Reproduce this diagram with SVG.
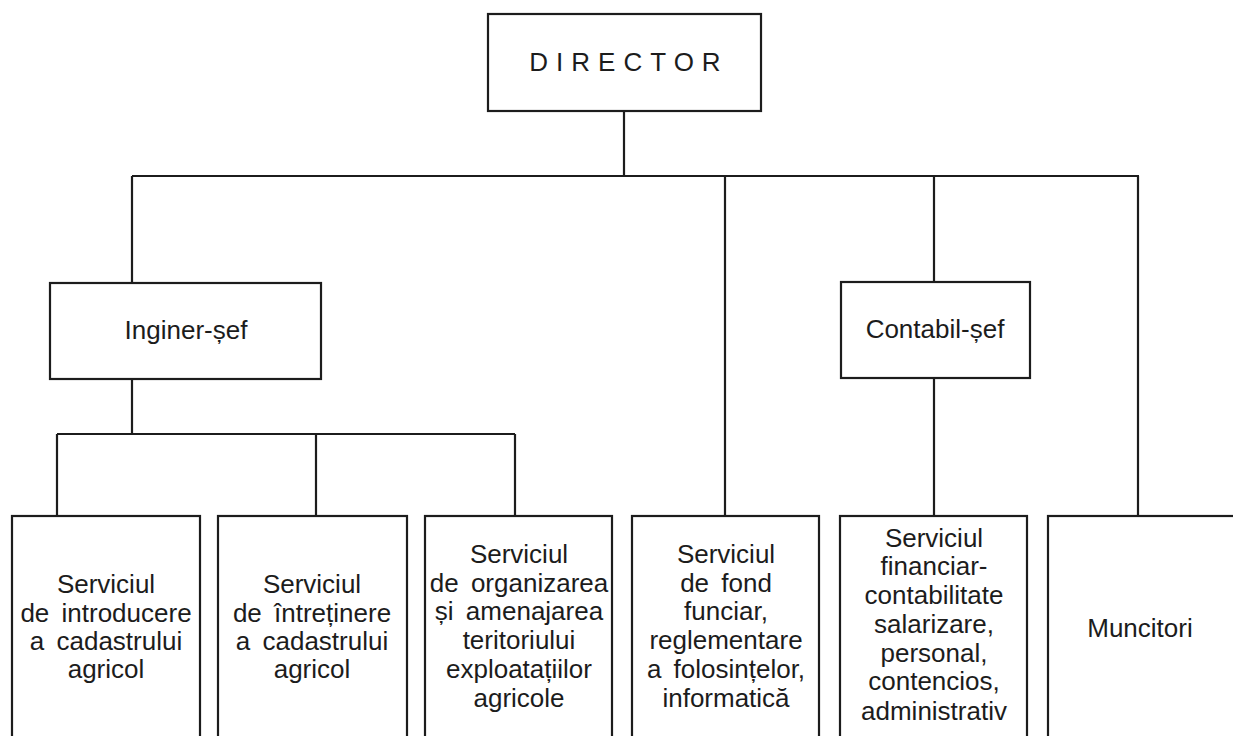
<svg xmlns="http://www.w3.org/2000/svg" width="1233" height="736" viewBox="0 0 1233 736">
<style>
.box{fill:#fff;stroke:#1c1c1c;stroke-width:2.2}
.ln{fill:none;stroke:#1c1c1c;stroke-width:2.2}
text{font-family:"Liberation Sans",Arial,sans-serif;font-size:26px;fill:#1c1c1c;text-anchor:middle}
.ws{word-spacing:5px}
</style>
<rect width="1233" height="736" fill="#fff"/>
<g id="connectors">
<path class="ln" d="M624,111V176M132,176H1139M132,176V283M725,176V516M934,176V282M1138,176V516"/>
<path class="ln" d="M132,379V434M57,434H515M57,434V516M316,434V516M515,434V516M934,378V516"/>
</g>
<g id="director">
<rect class="box" x="488" y="14" width="273" height="97"/>
<text x="629" y="71" style="letter-spacing:8px">DIRECTOR</text>
</g>
<g id="inginer-sef">
<rect class="box" x="50" y="283" width="271" height="96"/>
<text x="186" y="339">Inginer-șef</text>
</g>
<g id="contabil-sef">
<rect class="box" x="841" y="282" width="189" height="96"/>
<text x="935" y="338">Contabil-șef</text>
</g>
<g id="serviciul-introducere">
<rect class="box" x="12" y="516" width="188" height="240"/>
<text class="ws" x="106" y="593">Serviciul</text>
<text class="ws" x="106" y="622">de introducere</text>
<text class="ws" x="106" y="650">a cadastrului</text>
<text class="ws" x="106" y="678">agricol</text>
</g>
<g id="serviciul-intretinere">
<rect class="box" x="218" y="516" width="189" height="240"/>
<text class="ws" x="312" y="593">Serviciul</text>
<text class="ws" x="312" y="622">de întreținere</text>
<text class="ws" x="312" y="650">a cadastrului</text>
<text class="ws" x="312" y="678">agricol</text>
</g>
<g id="serviciul-organizare">
<rect class="box" x="425" y="516" width="187" height="240"/>
<text class="ws" x="519" y="563">Serviciul</text>
<text class="ws" x="519" y="592">de organizarea</text>
<text class="ws" x="519" y="620">și amenajarea</text>
<text class="ws" x="519" y="649">teritoriului</text>
<text class="ws" x="519" y="678">exploatațiilor</text>
<text class="ws" x="519" y="707">agricole</text>
</g>
<g id="serviciul-fond-funciar">
<rect class="box" x="632" y="516" width="187" height="240"/>
<text class="ws" x="726" y="563">Serviciul</text>
<text class="ws" x="726" y="592">de fond</text>
<text class="ws" x="726" y="620">funciar,</text>
<text class="ws" x="726" y="649">reglementare</text>
<text class="ws" x="726" y="678">a folosințelor,</text>
<text class="ws" x="726" y="707">informatică</text>
</g>
<g id="serviciul-financiar">
<rect class="box" x="840" y="516" width="187" height="240"/>
<text x="934" y="547">Serviciul</text>
<text x="934" y="575">financiar-</text>
<text x="934" y="604">contabilitate</text>
<text x="934" y="633">salarizare,</text>
<text x="934" y="662">personal,</text>
<text x="934" y="690">contencios,</text>
<text x="934" y="720">administrativ</text>
</g>
<g id="muncitori">
<rect class="box" x="1048" y="516" width="200" height="240"/>
<text x="1140" y="637">Muncitori</text>
</g>
</svg>
